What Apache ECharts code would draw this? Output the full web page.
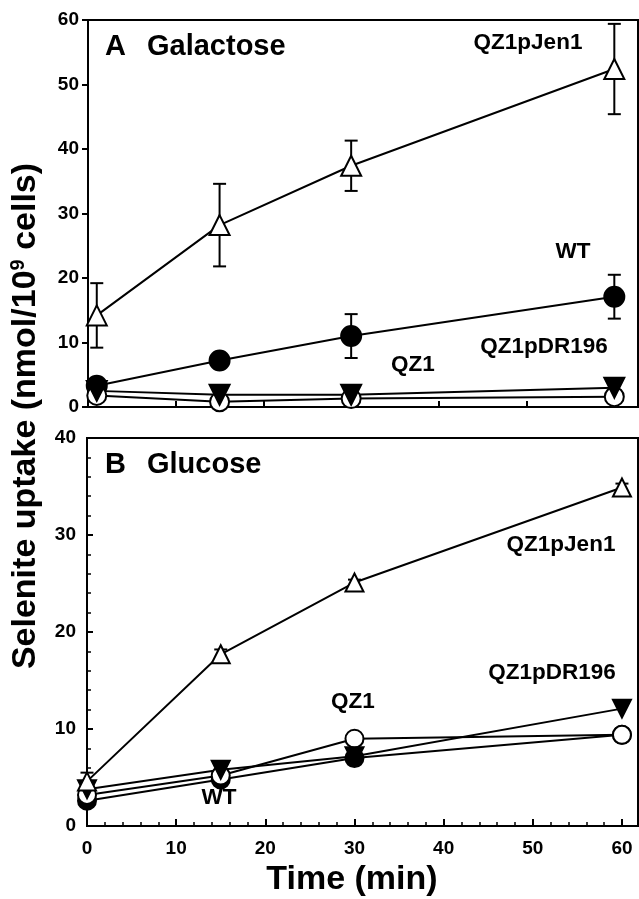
<!DOCTYPE html>
<html>
<head>
<meta charset="utf-8">
<script src="https://cdn.jsdelivr.net/npm/echarts@6/dist/echarts.min.js"></script>
<style>
  html, body { margin: 0; padding: 0; background: #fff; }
  #main { width: 639px; height: 899px; }
</style>
</head>
<body>
<div id="main"></div>
<script>
// ---- data ----
// panel A, galactose
var timeA = [1, 15, 30, 60];
var jen1A = [14.2, 28.2, 37.4, 52.4];
var jen1AErr = [5.0, 6.4, 3.9, 7.0];
var wtA = [3.3, 7.2, 11.0, 17.1];
var wtAErr = [0, 0, 3.4, 3.4];
var dr196A = [2.5, 1.9, 1.9, 3.0];
var qz1A = [1.8, 0.8, 1.3, 1.6];

// panel B, glucose
var timeB = [0, 15, 30, 60];
var jen1B = [4.6, 17.7, 25.1, 34.9];
var jen1BErr = [0.9, 0.5, 0.3, 0.4];
var wtB = [2.6, 4.8, 7.0, 9.4];
var dr196B = [3.8, 5.8, 7.2, 12.1];
var qz1B = [3.2, 5.2, 9.0, 9.4];

var yTicksA = [0, 10, 20, 30, 40, 50, 60];
var yTicksB = [0, 10, 20, 30, 40];
var xTicks = [0, 10, 20, 30, 40, 50, 60];

var FONT = '"Liberation Sans", Arial, sans-serif';

function pairs(xs, ys) {
  var out = [];
  for (var i = 0; i < xs.length; i++) out.push([xs[i], ys[i]]);
  return out;
}
function errData(xs, ys, es) {
  var out = [];
  for (var i = 0; i < xs.length; i++) {
    if (es[i] > 0) out.push([xs[i], ys[i] - es[i], ys[i] + es[i]]);
  }
  return out;
}

function lineSeries(idx, data, symbol, fill, size, rotate) {
  return {
    type: 'line',
    xAxisIndex: idx, yAxisIndex: idx,
    data: data,
    symbol: symbol,
    symbolSize: size,
    symbolRotate: rotate || 0,
    showAllSymbol: true,
    lineStyle: { color: '#000', width: 2 },
    itemStyle: { color: fill, borderColor: '#000', borderWidth: 2 },
    emphasis: { disabled: true },
    z: 3
  };
}

function errSeries(idx, data) {
  return {
    type: 'custom',
    xAxisIndex: idx, yAxisIndex: idx,
    data: data,
    z: 2,
    renderItem: function (params, api) {
      var lo = api.coord([api.value(0), api.value(1)]);
      var hi = api.coord([api.value(0), api.value(2)]);
      var cap = 6.5;
      var st = { stroke: '#000', lineWidth: 2 };
      return {
        type: 'group',
        children: [
          { type: 'line', shape: { x1: hi[0], y1: hi[1], x2: lo[0], y2: lo[1] }, style: st },
          { type: 'line', shape: { x1: hi[0] - cap, y1: hi[1], x2: hi[0] + cap, y2: hi[1] }, style: st },
          { type: 'line', shape: { x1: lo[0] - cap, y1: lo[1], x2: lo[0] + cap, y2: lo[1] }, style: st }
        ]
      };
    }
  };
}

var labelStyle = { fontFamily: FONT, fontWeight: 'bold', fontSize: 19, color: '#000' };

function txt(x, y, s, size, align) {
  return {
    type: 'text', x: x, y: y,
    style: {
      text: s, fontFamily: FONT, fontWeight: 'bold', fontSize: size,
      fill: '#000', align: align || 'center', verticalAlign: 'middle'
    }
  };
}

var chart = echarts.init(document.getElementById('main'));

var option = {
  animation: false,
  backgroundColor: '#fff',
  grid: [
    { left: 88, top: 20, right: 1, height: 387, show: true, borderColor: '#000', borderWidth: 2 },
    { left: 87, top: 438, right: 1, height: 388, show: true, borderColor: '#000', borderWidth: 2 }
  ],
  xAxis: [
    {
      gridIndex: 0, type: 'value', min: 0, max: 62.7, interval: 10,
      axisLine: { lineStyle: { color: '#000', width: 2 } },
      axisTick: { inside: true, length: 6, lineStyle: { color: '#000', width: 2 } },
      axisLabel: { show: false },
      splitLine: { show: false }
    },
    {
      gridIndex: 1, type: 'value', min: 0, max: 61.8, interval: 10, position: 'bottom',
      axisLine: { lineStyle: { color: '#000', width: 2 } },
      axisTick: { inside: true, length: 7, lineStyle: { color: '#000', width: 2 } },
      axisLabel: Object.assign({ margin: 13, showMaxLabel: false,
        formatter: function (v) { return xTicks.indexOf(v) >= 0 ? String(v) : ''; } }, labelStyle),
      splitLine: { show: false }
    },
    {
      // minor ticks of the bottom time axis, every 2 min
      gridIndex: 1, type: 'value', min: 0, max: 61.8, interval: 2, position: 'bottom',
      axisLine: { show: false },
      axisTick: { inside: true, length: 4, lineStyle: { color: '#000', width: 1.5 } },
      axisLabel: { show: false },
      splitLine: { show: false }
    }
  ],
  yAxis: [
    {
      gridIndex: 0, type: 'value', min: 0, max: 60, interval: 10,
      axisLine: { show: true, lineStyle: { color: '#000', width: 2 } },
      axisTick: { show: true, inside: false, length: 6, lineStyle: { color: '#000', width: 2 } },
      axisLabel: Object.assign({ margin: 9,
        formatter: function (v) { return yTicksA.indexOf(v) >= 0 ? String(v) : ''; } }, labelStyle),
      splitLine: { show: false }
    },
    {
      gridIndex: 1, type: 'value', min: 0, max: 40, interval: 10,
      axisLine: { show: true, lineStyle: { color: '#000', width: 2 } },
      axisTick: { show: true, inside: true, length: 6, lineStyle: { color: '#000', width: 2 } },
      minorTick: { show: true, splitNumber: 5, length: 4, lineStyle: { color: '#000', width: 1.5 } },
      axisLabel: Object.assign({ margin: 11,
        formatter: function (v) { return yTicksB.indexOf(v) >= 0 ? String(v) : ''; } }, labelStyle),
      splitLine: { show: false },
      minorSplitLine: { show: false }
    }
  ],
  series: [
    // panel A
    errSeries(0, errData(timeA, jen1A, jen1AErr)),
    errSeries(0, errData(timeA, wtA, wtAErr)),
    lineSeries(0, pairs(timeA, wtA), 'circle', '#000', 20),
    lineSeries(0, pairs(timeA, qz1A), 'circle', '#fff', 19),
    lineSeries(0, pairs(timeA, dr196A), 'triangle', '#000', 20, 180),
    lineSeries(0, pairs(timeA, jen1A), 'triangle', '#fff', 20),
    // panel B
    errSeries(1, errData(timeB, jen1B, jen1BErr)),
    lineSeries(1, pairs(timeB, wtB), 'circle', '#000', 18),
    lineSeries(1, pairs(timeB, qz1B), 'circle', '#fff', 18),
    lineSeries(1, pairs(timeB, dr196B), 'triangle', '#000', 18, 180),
    lineSeries(1, pairs(timeB, jen1B), 'triangle', '#fff', 18)
  ],
  graphic: [
    // panel titles
    txt(105, 47, 'A', 29, 'left'),
    txt(147, 47, 'Galactose', 29, 'left'),
    txt(105, 465, 'B', 29, 'left'),
    txt(147, 465, 'Glucose', 29, 'left'),
    // strain labels, panel A
    txt(528, 43, 'QZ1pJen1', 22.5),
    txt(573, 252, 'WT', 22.5),
    txt(544, 347, 'QZ1pDR196', 22.5),
    txt(413, 365, 'QZ1', 22.5),
    // strain labels, panel B
    txt(561, 545, 'QZ1pJen1', 22.5),
    txt(552, 673, 'QZ1pDR196', 22.5),
    txt(353, 702, 'QZ1', 22.5),
    txt(219, 798, 'WT', 22.5),
    // axis titles
    txt(352, 880, 'Time (min)', 34),
    {
      type: 'text', x: 26, y: 416, rotation: Math.PI / 2,
      style: {
        text: '{a|Selenite uptake (nmol/10}{s|9}{a| cells)}',
        align: 'center', verticalAlign: 'middle', fill: '#000',
        rich: {
          a: { fontFamily: FONT, fontWeight: 'bold', fontSize: 34, fill: '#000' },
          s: { fontFamily: FONT, fontWeight: 'bold', fontSize: 20, fill: '#000', padding: [0, 0, 16, 0] }
        }
      }
    }
  ]
};

chart.setOption(option);
</script>
</body>
</html>
